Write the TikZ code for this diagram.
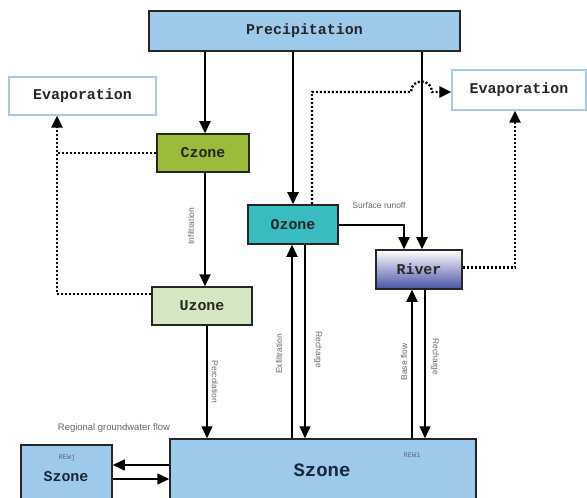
\documentclass[tikz,border=0pt]{standalone}
\usepackage{fontspec}
\setmonofont{Liberation Mono}
\setsansfont{Liberation Sans}
\usetikzlibrary{arrows.meta}
\definecolor{skyblue}{RGB}{157,201,235}
\definecolor{czonegreen}{RGB}{155,187,59}
\definecolor{uzonegreen}{RGB}{212,230,194}
\definecolor{ozoneteal}{RGB}{57,188,192}
\definecolor{riverblue}{RGB}{72,82,165}
\definecolor{evapline}{RGB}{167,200,232}
\definecolor{navy}{RGB}{26,38,60}
\begin{document}
\begin{tikzpicture}[x=1bp,y=-1bp,
    zone/.style={draw=black!85, line width=1.5bp, inner sep=0pt, text=black!85,
      font=\ttfamily\bfseries\fontsize{15}{15}\selectfont},
    evap/.style={draw=evapline, line width=1.2bp, fill=white, inner sep=0pt, text=black!85,
      font=\ttfamily\bfseries\fontsize{15}{15}\selectfont},
    flow/.style={line width=2bp, -{Triangle[width=11bp,length=12bp]}},
    thinflow/.style={flow, line width=1.4bp},
    vapour/.style={line width=2.4bp, dash pattern=on 2bp off 2bp},
    vapourtip/.style={vapour, -{Triangle[width=11bp,length=12bp]}},
    lab/.style={font=\sffamily\fontsize{8.5}{8.5}\selectfont, text=black!60},
    rew/.style={font=\ttfamily\fontsize{7}{7}\selectfont, text=navy!70}]
    \useasboundingbox (0,0) rectangle (587,498);

    % Boxes
    \node[zone, fill=skyblue, minimum width=311bp, minimum height=40bp] (precip) at (304.5,31) {Precipitation};
    \node[evap, minimum width=147bp, minimum height=38bp] (evapl) at (82.5,96) {Evaporation};
    \node[evap, minimum width=134bp, minimum height=40bp] (evapr) at (519,90) {Evaporation};
    \node[zone, fill=czonegreen, minimum width=92bp, minimum height=38bp] (czone) at (203,153) {Czone};
    \node[zone, fill=ozoneteal, minimum width=90bp, minimum height=39bp] (ozone) at (293,224.5) {Ozone};
    \node[zone, top color=white, bottom color=riverblue, minimum width=86bp, minimum height=39bp] (river) at (419,269.5) {River};
    \node[zone, fill=uzonegreen, minimum width=100bp, minimum height=38bp] (uzone) at (202,306) {Uzone};
    \node[zone, fill=skyblue, minimum width=306bp, minimum height=66bp] (szone) at (323,472) {};
    \node[zone, fill=skyblue, minimum width=91bp, minimum height=58bp] (szonej) at (66.5,474) {};

    % Texts in the Szone boxes
    \node[font=\ttfamily\bfseries\fontsize{19}{19}\selectfont, text=navy] (szlab) at (322,470) {Szone};
    \node[rew] (rew1) at (412,455) {REW1};
    \node[font=\ttfamily\bfseries\fontsize{15}{15}\selectfont, text=navy] (szjlab) at (66,477) {Szone};
    \node[rew] (rewj) at (67,458) {REWj};

    % Precipitation
    \draw[flow] (precip.south -| czone.north) ++(2,0) coordinate (p1) -- (p1 |- czone.north);
    \draw[flow] (precip.south -| ozone.north) -- (ozone.north);
    \draw[flow] (precip.south -| river.north) ++(3,0) coordinate (p3) -- (p3 |- river.north);

    % Soil column
    \draw[flow] (czone.south) ++(2,0) coordinate (c1) -- (c1 |- uzone.north);
    \draw[thinflow] (uzone.south) ++(5,0) coordinate (u1) -- (u1 |- szone.north);
    \coordinate (o2) at ([xshift=-1bp]ozone.south);
    \draw[flow] (o2 |- szone.north) -- (o2);
    \coordinate (o3) at ([xshift=12bp]ozone.south);
    \draw[thinflow] (o3) -- (o3 |- szone.north);
    \draw[flow] (ozone.east) -| ([xshift=-15bp]river.north);
    \draw[flow] ([xshift=-7bp]river.south |- szone.north) -- ([xshift=-7bp]river.south);
    \draw[thinflow] ([xshift=6bp]river.south) -- ([xshift=6bp]river.south |- szone.north);

    % Regional groundwater flow
    \draw[flow, line width=1.5bp] ([yshift=9bp]szone.west |- szonej.east) -- ([yshift=9bp]szonej.east);
    \draw[flow, line width=1.5bp] ([yshift=-5bp]szonej.east) -- ([yshift=-5bp]szonej.east -| szone.west);

    % Evaporation
    \draw[vapourtip] (czone.west) -| ([xshift=-25.5bp]evapl.south);
    \draw[vapour] ([yshift=12bp]uzone.west) -| ([xshift=-25.5bp]czone.west -| evapl.south);
    \coordinate (hopl) at (411,92);
    \coordinate (hopr) at (432,92);
    \draw[vapourtip] ([xshift=19bp]ozone.north) |- (hopl)
      .. controls (411,78) and (432,78) .. (hopr) -- ([yshift=-2bp]evapr.west);
    \draw[vapourtip] ([yshift=2bp]river.east) -| ([xshift=-4bp]evapr.south);

    % Flow labels
    \node[lab, rotate=90] (infil) at (191,226) {Infiltration};
    \node[lab, rotate=-90] (perc) at (215,382) {Percolation};
    \node[lab, rotate=90] (exfil) at (279,354) {Exfiltration};
    \node[lab, rotate=-90] (rech1) at (318,350) {Recharge};
    \node[lab, rotate=90] (base) at (404,362) {Base flow};
    \node[lab, rotate=-90] (rech2) at (435,357) {Recharge};
    \node[lab] (runoff) at (379,205) {Surface runoff};
    \node[lab, font=\sffamily\fontsize{9.5}{9.5}\selectfont] (regional) at (114,428) {Regional groundwater flow};
\end{tikzpicture}
\end{document}
